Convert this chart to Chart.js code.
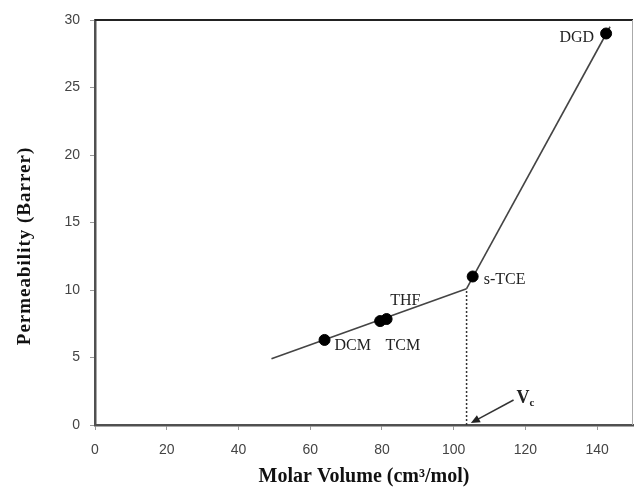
<!DOCTYPE html>
<html>
<head>
<meta charset="utf-8">
<script src="https://cdn.jsdelivr.net/npm/chart.js@4"></script>
<style>
  html, body { margin: 0; padding: 0; background: #fff; }
  #wrap { width: 634px; height: 489px; }
</style>
</head>
<body>
<div id="wrap"><canvas id="permChart" width="634" height="489"></canvas></div>
<script>
// solvents measured
const solventNames = ['DCM', 'THF', 'TCM', 's-TCE', 'DGD'];
const molarVolume = [64.0, 79.5, 81.3, 105.3, 142.5];
const permeability = [6.3, 7.7, 7.85, 11.0, 29.0];

// the two fitted segments and the critical volume
const lowFitX = [49.2, 103.6];
const lowFitY = [4.9, 10.1];
const highFitX = [103.6, 143.6];
const highFitY = [10.1, 29.5];
const vcValue = 103.6;
const vcArrowFrom = [116.7, 1.85];
const vcArrowTo = [104.8, 0.15];

const xTickValues = [0, 20, 40, 60, 80, 100, 120, 140];
const yTickValues = [0, 5, 10, 15, 20, 25, 30];

const toPoints = (xs, ys) => xs.map((x, i) => ({ x: x, y: ys[i] }));

const serif = '"Liberation Serif", "Times New Roman", serif';

// where each solvent name sits relative to its dot
const labelOffsets = {
    'DCM': [10, 6, 'left'],
    'THF': [10, -20, 'left'],
    'TCM': [-1, 27, 'left'],
    's-TCE': [11, 3, 'left'],
    'DGD': [-12, 4, 'right']
};

const annotations = {
    id: 'annotations',
    afterDatasetsDraw(chart) {
        const { ctx, chartArea, scales: { x, y } } = chart;
        ctx.save();

        // top and right border of the plot box
        ctx.strokeStyle = '#222';
        ctx.lineWidth = 2;
        ctx.beginPath();
        ctx.moveTo(chartArea.left, chartArea.top);
        ctx.lineTo(chartArea.right, chartArea.top);
        ctx.stroke();
        ctx.strokeStyle = '#aaa';
        ctx.lineWidth = 1;
        ctx.beginPath();
        ctx.moveTo(chartArea.right - 0.5, chartArea.top);
        ctx.lineTo(chartArea.right - 0.5, chartArea.bottom);
        ctx.stroke();

        // solvent names
        ctx.fillStyle = '#222';
        ctx.font = '16px ' + serif;
        ctx.textBaseline = 'middle';
        solventNames.forEach((name, i) => {
            const off = labelOffsets[name];
            ctx.textAlign = off[2];
            ctx.fillText(name, x.getPixelForValue(molarVolume[i]) + off[0], y.getPixelForValue(permeability[i]) + off[1]);
        });

        // Vc arrow
        const x0 = x.getPixelForValue(vcArrowFrom[0]), y0 = y.getPixelForValue(vcArrowFrom[1]);
        const x1 = x.getPixelForValue(vcArrowTo[0]), y1 = y.getPixelForValue(vcArrowTo[1]);
        const ang = Math.atan2(y1 - y0, x1 - x0);
        ctx.strokeStyle = '#333';
        ctx.lineWidth = 1.5;
        ctx.beginPath();
        ctx.moveTo(x0, y0);
        ctx.lineTo(x1 - 6 * Math.cos(ang), y1 - 6 * Math.sin(ang));
        ctx.stroke();
        ctx.fillStyle = '#222';
        ctx.beginPath();
        ctx.moveTo(x1, y1);
        ctx.lineTo(x1 - 9 * Math.cos(ang) + 4 * Math.sin(ang), y1 - 9 * Math.sin(ang) - 4 * Math.cos(ang));
        ctx.lineTo(x1 - 9 * Math.cos(ang) - 4 * Math.sin(ang), y1 - 9 * Math.sin(ang) + 4 * Math.cos(ang));
        ctx.closePath();
        ctx.fill();

        ctx.textAlign = 'left';
        ctx.textBaseline = 'alphabetic';
        ctx.font = 'bold 18px ' + serif;
        ctx.fillText('V', x0 + 3, y0 + 3);
        const vw = ctx.measureText('V').width;
        ctx.font = 'bold 11px ' + serif;
        ctx.fillText('c', x0 + 3 + vw, y0 + 6);

        ctx.restore();
    },
    afterDraw(chart) {
        // y axis title, drawn by hand so it can sit a bit lower than centre
        const { ctx } = chart;
        ctx.save();
        ctx.translate(25, 246);
        ctx.rotate(-Math.PI / 2);
        ctx.font = 'bold 19px ' + serif;
        ctx.fillStyle = '#111';
        ctx.textAlign = 'center';
        ctx.textBaseline = 'middle';
        ctx.letterSpacing = '1px';
        ctx.fillText('Permeability (Barrer)', 0, 0);
        ctx.restore();
    }
};

new Chart(document.getElementById('permChart'), {
    type: 'scatter',
    data: {
        datasets: [
            {
                label: 'Solvents',
                data: toPoints(molarVolume, permeability),
                backgroundColor: '#000',
                borderColor: '#000',
                pointRadius: 5.5,
                pointHoverRadius: 5.5,
                order: 0
            },
            {
                label: 'Low fit',
                data: toPoints(lowFitX, lowFitY),
                showLine: true,
                borderColor: '#444',
                borderWidth: 1.6,
                pointRadius: 0,
                order: 1
            },
            {
                label: 'High fit',
                data: toPoints(highFitX, highFitY),
                showLine: true,
                borderColor: '#444',
                borderWidth: 1.6,
                pointRadius: 0,
                order: 1
            },
            {
                label: 'Vc',
                data: [{ x: vcValue, y: 0 }, { x: vcValue, y: lowFitY[1] }],
                showLine: true,
                borderColor: '#333',
                borderWidth: 1.5,
                borderDash: [2, 2],
                pointRadius: 0,
                order: 2
            }
        ]
    },
    options: {
        responsive: false,
        animation: false,
        layout: { autoPadding: false, padding: { left: 0, top: 20, right: 1, bottom: 0 } },
        plugins: {
            legend: { display: false },
            tooltip: { enabled: false }
        },
        scales: {
            x: {
                type: 'linear',
                min: 0,
                max: 150,
                afterBuildTicks: (scale) => {
                    scale.ticks = xTickValues.map(v => ({ value: v }));
                },
                afterFit: (scale) => {
                    scale.height = 64;
                    scale.paddingRight = 0;
                    scale.paddingLeft = 0;
                },
                grid: { drawOnChartArea: false, tickLength: 5, color: '#999' },
                border: { color: '#505050', width: 2.5 },
                ticks: {
                    padding: 12,
                    color: '#444',
                    font: { family: '"Liberation Sans", Arial, sans-serif', size: 14 }
                },
                title: {
                    display: true,
                    text: 'Molar Volume (cm³/mol)',
                    color: '#111',
                    font: { family: serif, size: 20, weight: 'bold' },
                    padding: { top: 0, bottom: 0 }
                }
            },
            y: {
                min: 0,
                max: 30,
                afterBuildTicks: (scale) => {
                    scale.ticks = yTickValues.map(v => ({ value: v }));
                },
                afterFit: (scale) => {
                    scale.width = 95;
                    scale.paddingTop = 0;
                    scale.paddingBottom = 0;
                },
                grid: { drawOnChartArea: false, tickLength: 5, color: '#999' },
                border: { color: '#505050', width: 2.5 },
                ticks: {
                    padding: 10,
                    color: '#444',
                    font: { family: '"Liberation Sans", Arial, sans-serif', size: 14 }
                }
            }
        }
    },
    plugins: [annotations]
});
</script>
</body>
</html>
